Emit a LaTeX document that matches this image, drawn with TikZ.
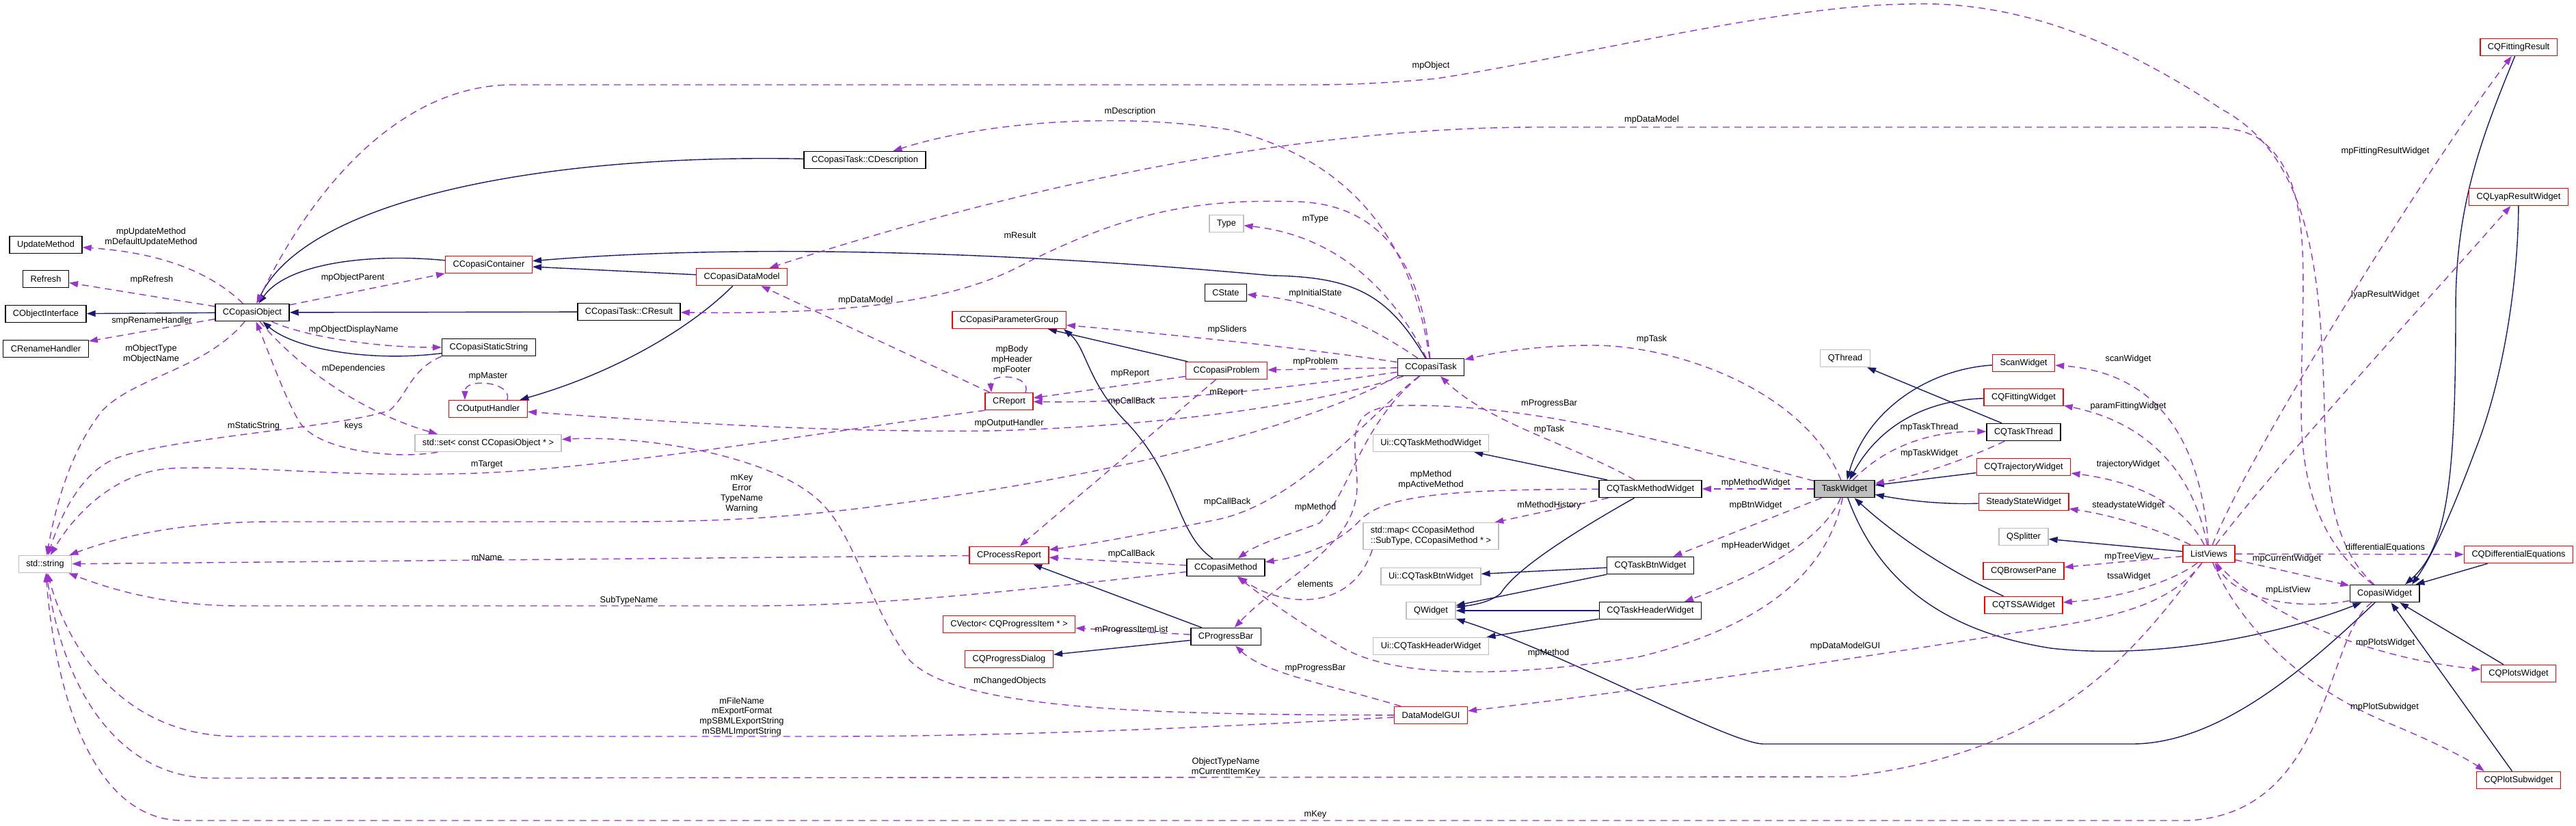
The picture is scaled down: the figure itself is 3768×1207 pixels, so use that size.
\documentclass[tikz,border=0pt]{standalone}
\usepackage{fontspec}
\setmainfont{Liberation Sans}
\usepackage{tikz}
\usetikzlibrary{arrows.meta, backgrounds}
\definecolor{dxnavy}{HTML}{191970}
\definecolor{dxorchid}{HTML}{9A32CD}
\definecolor{dxgrey}{HTML}{BFBFBF}
\newcommand{\dxfont}{\fontsize{6.4}{7.4}\selectfont}

\begin{document}
\begin{tikzpicture}[
  x=0.5pt, y=-0.5pt,
  cls/.style={rectangle, draw=black, fill=white, line width=0.7pt, font=\dxfont, minimum height=12.5pt, inner xsep=5.5pt, inner ysep=1pt},
  redcls/.style={cls, draw=red},
  extcls/.style={cls, draw=dxgrey},
  curcls/.style={cls, fill=dxgrey},
  inh/.style={draw=dxnavy, line width=0.7pt, -{Triangle[length=6.5pt,width=4.5pt]}},
  usg/.style={draw=dxorchid, line width=0.7pt, dash pattern=on 5pt off 3.5pt, -{Triangle[length=6.5pt,width=4.5pt]}},
  lbl/.style={font=\dxfont, align=center, inner sep=0pt},
]
\useasboundingbox (0,0) rectangle (3768,1207);

\node[cls]    (updm)      at (67,358)   {UpdateMethod};
\node[cls]    (refresh)   at (67,408)   {Refresh};
\node[cls]    (cobjif)    at (67,459)   {CObjectInterface};
\node[cls]    (crename)   at (67,510)   {CRenameHandler};
\node[cls]    (cobj)      at (369,457)  {CCopasiObject};
\node[redcls] (ccont)     at (715,387)  {CCopasiContainer};
\node[cls]    (cstatic)   at (715,508)  {CCopasiStaticString};
\node[redcls] (coutput)   at (714,598)  {COutputHandler};
\node[extcls] (stdset)    at (714,648)  {std::set< const CCopasiObject * >};
\node[extcls] (stdstring) at (66,825)   {std::string};
\node[cls]    (cdesc)     at (1265,234) {CCopasiTask::CDescription};
\node[redcls] (cdm)       at (1085,405) {CCopasiDataModel};
\node[cls]    (cresult)   at (920,456)  {CCopasiTask::CResult};
\node[redcls] (cparam)    at (1476,468) {CCopasiParameterGroup};
\node[redcls] (creport)   at (1476,587) {CReport};
\node[redcls] (cproc)     at (1476,812) {CProcessReport};
\node[redcls] (cvector)   at (1476,913) {CVector< CQProgressItem * >};
\node[redcls] (cqprog)    at (1476,964) {CQProgressDialog};
\node[extcls] (ctype)     at (1794,327) {Type};
\node[cls]    (cstate)    at (1793,428) {CState};
\node[redcls] (cproblem)  at (1794,542) {CCopasiProblem};
\node[cls]    (cmethod)   at (1793,830) {CCopasiMethod};
\node[cls]    (cprogbar)  at (1793,931) {CProgressBar};
\node[cls]    (ctask)     at (2093,537) {CCopasiTask};
\node[extcls] (uimethod)  at (2093,648) {Ui::CQTaskMethodWidget};
\node[extcls, align=left, inner ysep=3pt] (stdmap) at (2093,784) {std::map< CCopasiMethod\\::SubType, CCopasiMethod * >};
\node[extcls] (uibtn)     at (2093,843) {Ui::CQTaskBtnWidget};
\node[extcls] (qwidget)   at (2093,893) {QWidget};
\node[extcls] (uiheader)  at (2093,945) {Ui::CQTaskHeaderWidget};
\node[redcls] (dmgui)     at (2093,1046) {DataModelGUI};
\node[cls]    (methodw)   at (2414,715) {CQTaskMethodWidget};
\node[cls]    (btnw)      at (2414,827) {CQTaskBtnWidget};
\node[cls]    (headerw)   at (2414,893) {CQTaskHeaderWidget};
\node[extcls] (qthread)   at (2699,524) {QThread};
\node[curcls] (taskw)     at (2698,715) {TaskWidget};
\node[redcls] (scanw)     at (2960,531) {ScanWidget};
\node[redcls] (fitw)      at (2960,581) {CQFittingWidget};
\node[cls]    (threadw)   at (2960,632) {CQTaskThread};
\node[redcls] (trajw)     at (2960,683) {CQTrajectoryWidget};
\node[redcls] (ssw)       at (2960,734) {SteadyStateWidget};
\node[extcls] (qsplit)    at (2960,785) {QSplitter};
\node[redcls] (browser)   at (2960,835) {CQBrowserPane};
\node[redcls] (tssaw)     at (2960,885) {CQTSSAWidget};
\node[redcls] (listv)     at (3231,810) {ListViews};
\node[cls]    (copw)      at (3488,868) {CopasiWidget};
\node[redcls] (fitres)    at (3684,69)  {CQFittingResult};
\node[redcls] (lyapres)   at (3684,288) {CQLyapResultWidget};
\node[redcls] (diffeq)    at (3684,811) {CQDifferentialEquations};
\node[redcls] (plotsw)    at (3684,985) {CQPlotsWidget};
\node[redcls] (plotsub)   at (3684,1141) {CQPlotSubwidget};

\begin{scope}[on background layer]
% inheritance
\draw[inh] (cobj) -- (cobjif);
\draw[inh] (ccont) .. controls (540,370) and (420,385) .. (cobj);
\draw[inh] (cdesc) .. controls (800,225) and (450,290) .. (cobj);
\draw[inh] (cresult) -- (cobj);
\draw[inh] (cstatic) .. controls (540,530) and (430,510) .. (cobj);
\draw[inh] (cdm) -- (ccont);
\draw[inh] (ctask) .. controls (2030,430) and (1980,405) .. (1860,403) .. controls (1500,370) and (1100,355) .. (ccont);
\draw[inh] (cdm) .. controls (1010,480) and (900,545) .. (coutput);
\draw[inh] (cproblem) -- (cparam);
\draw[inh] (cmethod) .. controls (1720,780) and (1725,700) .. (1650,620) .. controls (1590,560) and (1590,510) .. ([xshift=-2pt]cparam.south east);
\draw[inh] (cprogbar) -- (cproc);
\draw[inh] (cprogbar) -- (cqprog);
\draw[inh] (methodw) -- (uimethod);
\draw[inh] (methodw) .. controls (2290,785) and (2215,835) .. (2195,868) .. controls (2180,880) and (2160,884) .. (qwidget);
\draw[inh] (btnw) -- (uibtn);
\draw[inh] (btnw) -- (qwidget);
\draw[inh] (headerw) -- (qwidget);
\draw[inh] (headerw) -- (uiheader);
\draw[inh] (copw) .. controls (3380,970) and (3250,1088) .. (3118,1088) -- (2580,1088) .. controls (2530,1088) and (2300,960) .. (qwidget);
\draw[inh] (taskw) .. controls (2740,830) and (2820,920) .. (3000,948) .. controls (3150,965) and (3330,930) .. (copw);
\draw[inh] (scanw) .. controls (2820,540) and (2730,600) .. (taskw);
\draw[inh] (fitw) .. controls (2820,585) and (2750,620) .. (taskw);
\draw[inh] (threadw) -- (qthread);
\draw[inh] (trajw) -- (taskw);
\draw[inh] (ssw) .. controls (2840,738) and (2790,732) .. (taskw);
\draw[inh] (tssaw) .. controls (2860,840) and (2780,790) .. (taskw);
\draw[inh] (listv) -- (qsplit);
\draw[inh] (diffeq) -- (copw);
\draw[inh] (fitres) .. controls (3630,200) and (3592,300) .. (3592,450) .. controls (3592,700) and (3580,800) .. ([xshift=15pt]copw.north);
\draw[inh] (lyapres) .. controls (3683,420) and (3660,560) .. (3620,660) .. controls (3590,740) and (3560,810) .. ([xshift=20pt]copw.north);
\draw[inh] (plotsw) -- (copw);
\draw[inh] (plotsub) -- (copw);
% members
\draw[usg] (cobj) .. controls (310,400) and (240,370) .. (updm) node[lbl] (lUpdate) at (221,347) {mpUpdateMethod\\mDefaultUpdateMethod};
\draw[usg] (cobj) -- (refresh) node[lbl] (lRefresh) at (222,409) {mpRefresh};
\draw[usg] (cobj) -- (crename) node[lbl] (lRename) at (222,469) {smpRenameHandler};
\draw[usg] (cobj) .. controls (300,540) and (200,550) .. (150,600) .. controls (110,650) and (85,720) .. (stdstring) node[lbl] (lObjType) at (221,518) {mObjectType\\mObjectName};
\draw[usg] (cobj) -- (ccont) node[lbl] (lParent) at (516,406) {mpObjectParent};
\draw[usg] (cobj) .. controls (440,490) and (540,508) .. (cstatic) node[lbl] (lDisplay) at (517,482) {mpObjectDisplayName};
\draw[usg] (cobj) .. controls (430,530) and (520,600) .. ([xshift=-37pt]stdset.north) node[lbl] (lDeps) at (517,539) {mDependencies};
\draw[usg] (cstatic.south west) .. controls (600,540) and (595,580) .. (570,600) .. controls (500,625) and (250,640) .. (170,670) .. controls (120,690) and (90,750) .. (stdstring) node[lbl] (lStatic) at (371,623) {mStaticString};
\draw[usg] (stdset) .. controls (580,672) and (470,660) .. (440,620) .. controls (420,590) and (395,520) .. (cobj) node[lbl] (lKeys) at (517,623) {keys};
\draw[usg] ([xshift=14pt]coutput.north) .. controls (750,558) and (680,552) .. ([xshift=-17pt]coutput.north) node[lbl] (lMaster) at (714,550) {mpMaster};
\draw[usg] (ctask) .. controls (1900,600) and (1650,625) .. (1450,630) .. controls (1200,633) and (950,615) .. (coutput) node[lbl] (lOutput) at (1476,619) {mpOutputHandler};
\draw[usg] (ctask) .. controls (1900,565) and (1700,590) .. (creport) node[lbl] (lReport) at (1794,574) {mReport};
\draw[usg] (cproblem) -- (creport) node[lbl] (lpReport) at (1653,546) {mpReport};
\draw[usg] (creport) -- (cdm) node[lbl] (lDataModel) at (1266,439) {mpDataModel};
\draw[usg] ([xshift=12pt]creport.north) .. controls (1510,548) and (1448,545) .. ([xshift=-13pt]creport.north) node[lbl] (lBody) at (1480,526) {mpBody\\mpHeader\\mpFooter};
\draw[usg] (creport.south west) .. controls (1200,632) and (850,693) .. (650,693) .. controls (500,697) and (350,680) .. (250,685) .. controls (170,690) and (110,750) .. (stdstring) node[lbl] (lTarget) at (712,679) {mTarget};
\draw[usg] (ctask) -- (cproblem) node[lbl] (lProblem) at (1924,529) {mpProblem};
\draw[usg] (ctask) .. controls (2010,480) and (1930,440) .. (cstate) node[lbl] (lInit) at (1924,429) {mpInitialState};
\draw[usg] (ctask) .. controls (2040,430) and (1960,345) .. (ctype) node[lbl] (lType) at (1924,320) {mType};
\draw[usg] (ctask) .. controls (1900,508) and (1700,488) .. (cparam) node[lbl] (lSliders) at (1795,482) {mpSliders};
\draw[usg] (ctask) .. controls (2070,380) and (2000,240) .. (1800,190) .. controls (1650,165) and (1450,175) .. (cdesc) node[lbl] (lDesc) at (1653,163) {mDescription};
\draw[usg] (ctask) .. controls (2080,400) and (2030,300) .. (1900,295) .. controls (1750,290) and (1650,310) .. (1500,385) .. controls (1400,440) and (1250,460) .. (cresult) node[lbl] (lResult) at (1492,344) {mResult};
\draw[usg] (cproblem) -- (cproc) node[lbl] (lCallBack) at (1655,587) {mpCallBack};
\draw[usg] (ctask) .. controls (2010,600) and (1900,735) .. (1780,760) .. controls (1680,780) and (1600,795) .. (cproc) node[lbl] (lCallBackT) at (1795,734) {mpCallBack};
\draw[usg] (ctask) .. controls (1990,620) and (1975,720) .. (1930,765) .. controls (1890,780) and (1840,795) .. (cmethod) node[lbl] (lMethodT) at (1924,742) {mpMethod};
\draw[usg] (cmethod) -- (cproc) node[lbl] (lCallBackM) at (1655,810) {mpCallBack};
\draw[usg] (cmethod) .. controls (1500,862) and (1300,886) .. (1100,886) -- (350,886) .. controls (250,886) and (170,865) .. (stdstring) node[lbl] (lSubType) at (920,878) {SubTypeName};
\draw[usg] (cproc) -- (stdstring) node[lbl] (lName) at (712,815) {mName};
\draw[usg] (ctask.south west) .. controls (1900,630) and (1600,700) .. (1300,738) .. controls (1150,758) and (1050,763) .. (900,763) -- (400,763) .. controls (250,763) and (160,790) .. (stdstring) node[lbl] (lKeyT) at (1085,722) {mKey\\Error\\TypeName\\Warning};
\draw[usg] ([xshift=7pt]stdmap.south west) .. controls (1975,900) and (1870,885) .. (cmethod) node[lbl] (lElements) at (1924,854) {elements};
\draw[usg] (methodw) -- (stdmap) node[lbl] (lHistory) at (2266,739) {mMethodHistory};
\draw[usg] (methodw) .. controls (2150,716) and (2030,720) .. (1990,760) .. controls (1960,795) and (1900,815) .. (cmethod) node[lbl] (lActive) at (2093,702) {mpMethod\\mpActiveMethod};
\draw[usg] (methodw) .. controls (2300,650) and (2180,620) .. (ctask) node[lbl] (lTaskM) at (2266,628) {mpTask};
\draw[usg] (taskw) .. controls (2640,570) and (2450,505) .. (2330,505) .. controls (2250,505) and (2190,515) .. (ctask) node[lbl] (lTaskT) at (2416,496) {mpTask};
\draw[usg] (taskw) .. controls (2450,650) and (2250,590) .. (2050,593) .. controls (1960,595) and (1985,650) .. (1985,710) .. controls (1985,800) and (1880,840) .. (cprogbar) node[lbl] (lProgT) at (2266,590) {mProgressBar};
\draw[usg] (taskw) -- (methodw) node[lbl] (lMethodW) at (2568,706) {mpMethodWidget};
\draw[usg] (taskw) -- (btnw) node[lbl] (lBtnW) at (2568,739) {mpBtnWidget};
\draw[usg] (taskw) .. controls (2670,780) and (2600,830) .. ([xshift=25pt]headerw.north) node[lbl] (lHeaderW) at (2568,798) {mpHeaderWidget};
\draw[usg] (taskw) .. controls (2670,850) and (2560,920) .. (2400,960) .. controls (2250,985) and (2050,1000) .. (1960,945) .. controls (1900,910) and (1850,875) .. (cmethod) node[lbl] (lMethodTW) at (2265,955) {mpMethod};
\draw[usg] (taskw) .. controls (2760,650) and (2830,630) .. (threadw) node[lbl] (lThread) at (2822,625) {mpTaskThread};
\draw[usg] (threadw) .. controls (2880,670) and (2810,695) .. (taskw) node[lbl] (lTaskWidget) at (2822,663) {mpTaskWidget};
\draw[usg] (listv) .. controls (3170,890) and (3080,905) .. (2950,925) .. controls (2700,965) and (2400,1010) .. (dmgui) node[lbl] (lDMGui) at (2699,945) {mpDataModelGUI};
\draw[usg] (dmgui) .. controls (1940,1000) and (1850,985) .. (cprogbar) node[lbl] (lProgD) at (1924,977) {mpProgressBar};
\draw[usg] (dmgui) .. controls (1700,1045) and (1400,1040) .. (1330,965) .. controls (1280,900) and (1250,790) .. (1210,745) .. controls (1150,670) and (950,636) .. (stdset) node[lbl] (lChanged) at (1477,996) {mChangedObjects};
\draw[usg] (dmgui) .. controls (1800,1062) and (1500,1077) .. (1200,1077) -- (348,1077) .. controls (180,1077) and (100,950) .. (stdstring) node[lbl] (lFile) at (1085,1048) {mFileName\\mExportFormat\\mpSBMLExportString\\mSBMLImportString};
\draw[usg] (listv) .. controls (3130,940) and (3020,1100) .. (2700,1136) -- (312,1138) .. controls (180,1138) and (95,1020) .. (stdstring) node[lbl] (lCurItem) at (1793,1122) {ObjectTypeName\\mCurrentItemKey};
\draw[usg] (copw) .. controls (3400,930) and (3410,1190) .. (3200,1200) -- (268,1200) .. controls (130,1200) and (80,1000) .. (stdstring) node[lbl] (lKeyC) at (1924,1191) {mKey};
\draw[usg] (copw) .. controls (3410,800) and (3402,700) .. (3400,600) .. controls (3395,400) and (3380,230) .. (3250,160) .. controls (3100,60) and (2950,0) .. (2790,6) .. controls (2600,8) and (2300,85) .. (2100,115) .. controls (2000,124) and (1950,124) .. (1900,124) -- (750,124) .. controls (600,124) and (470,250) .. (cobj) node[lbl] (lObject) at (2093,96) {mpObject};
\draw[usg] (copw) .. controls (3400,800) and (3366,720) .. (3366,600) .. controls (3366,400) and (3390,260) .. (3300,200) .. controls (3270,186) and (3250,186) .. (3200,186) -- (2250,186) .. controls (1900,186) and (1500,270) .. (cdm) node[lbl] (lDataModelC) at (2416,175) {mpDataModel};
\draw[usg] (copw) .. controls (3380,890) and (3280,885) .. (listv) node[lbl] (lListView) at (3347,863) {mpListView};
\draw[usg] (listv) -- (copw) node[lbl] (lCurrent) at (3345,817) {mpCurrentWidget};
\draw[usg] (listv) -- (diffeq) node[lbl] (lDiff) at (3489,801) {differentialEquations};
\draw[usg] (listv) .. controls (3300,890) and (3450,960) .. (plotsw) node[lbl] (lPlots) at (3489,940) {mpPlotsWidget};
\draw[usg] (listv) .. controls (3270,900) and (3350,1000) .. (3500,1060) .. controls (3560,1085) and (3610,1110) .. ([xshift=6pt]plotsub.north west) node[lbl] (lPlotSub) at (3488,1034) {mpPlotSubwidget};
\draw[usg] (listv) .. controls (3290,660) and (3560,230) .. (fitres) node[lbl] (lFitRes) at (3489,221) {mpFittingResultWidget};
\draw[usg] (listv) .. controls (3330,680) and (3550,440) .. (lyapres) node[lbl] (lLyap) at (3489,431) {lyapResultWidget};
\draw[usg] (listv) .. controls (3220,650) and (3160,545) .. (scanw) node[lbl] (lScan) at (3113,525) {scanWidget};
\draw[usg] (listv) .. controls (3210,700) and (3150,620) .. (fitw) node[lbl] (lParamFit) at (3113,594) {paramFittingWidget};
\draw[usg] (listv) .. controls (3195,740) and (3130,705) .. (trajw) node[lbl] (lTraj) at (3113,679) {trajectoryWidget};
\draw[usg] (listv) .. controls (3170,780) and (3100,755) .. (ssw) node[lbl] (lSteady) at (3113,739) {steadystateWidget};
\draw[usg] (listv) -- (browser) node[lbl] (lTree) at (3114,814) {mpTreeView};
\draw[usg] (listv) .. controls (3180,850) and (3100,875) .. (tssaw) node[lbl] (lTssa) at (3114,843) {tssaWidget};
\draw[usg] (cprogbar) -- (cvector) node[lbl] (lItems) at (1655,921) {mProgressItemList};
\end{scope}
\end{tikzpicture}
\end{document}
